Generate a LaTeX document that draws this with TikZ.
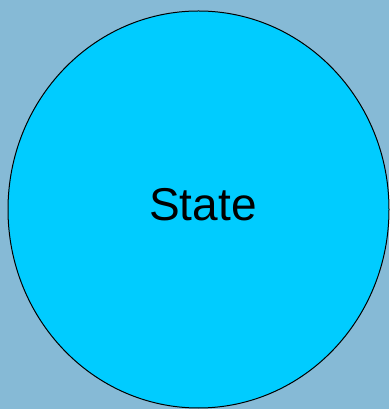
\documentclass[tikz,border=0pt]{standalone}
\usepackage{fontspec}
\setmainfont{Liberation Sans}
\usetikzlibrary{shapes.geometric}
\definecolor{bgblue}{RGB}{134,186,214}
\definecolor{statecyan}{RGB}{0,204,255}
\tikzset{statebox/.style={ellipse, draw=black, line width=1pt, fill=statecyan, minimum width=381pt, minimum height=397pt, inner sep=0pt}}
\begin{document}
\begin{tikzpicture}[x=1pt,y=1pt]
\fill[bgblue] (0,0) rectangle (389,409);
\useasboundingbox (0,0) rectangle (389,409);
\node[statebox] (s) at (198.5,199.5) {};
\node[anchor=base, font=\fontsize{46}{50}\selectfont, inner sep=0pt] (lbl) at (203,188) {State};
\end{tikzpicture}
\end{document}
